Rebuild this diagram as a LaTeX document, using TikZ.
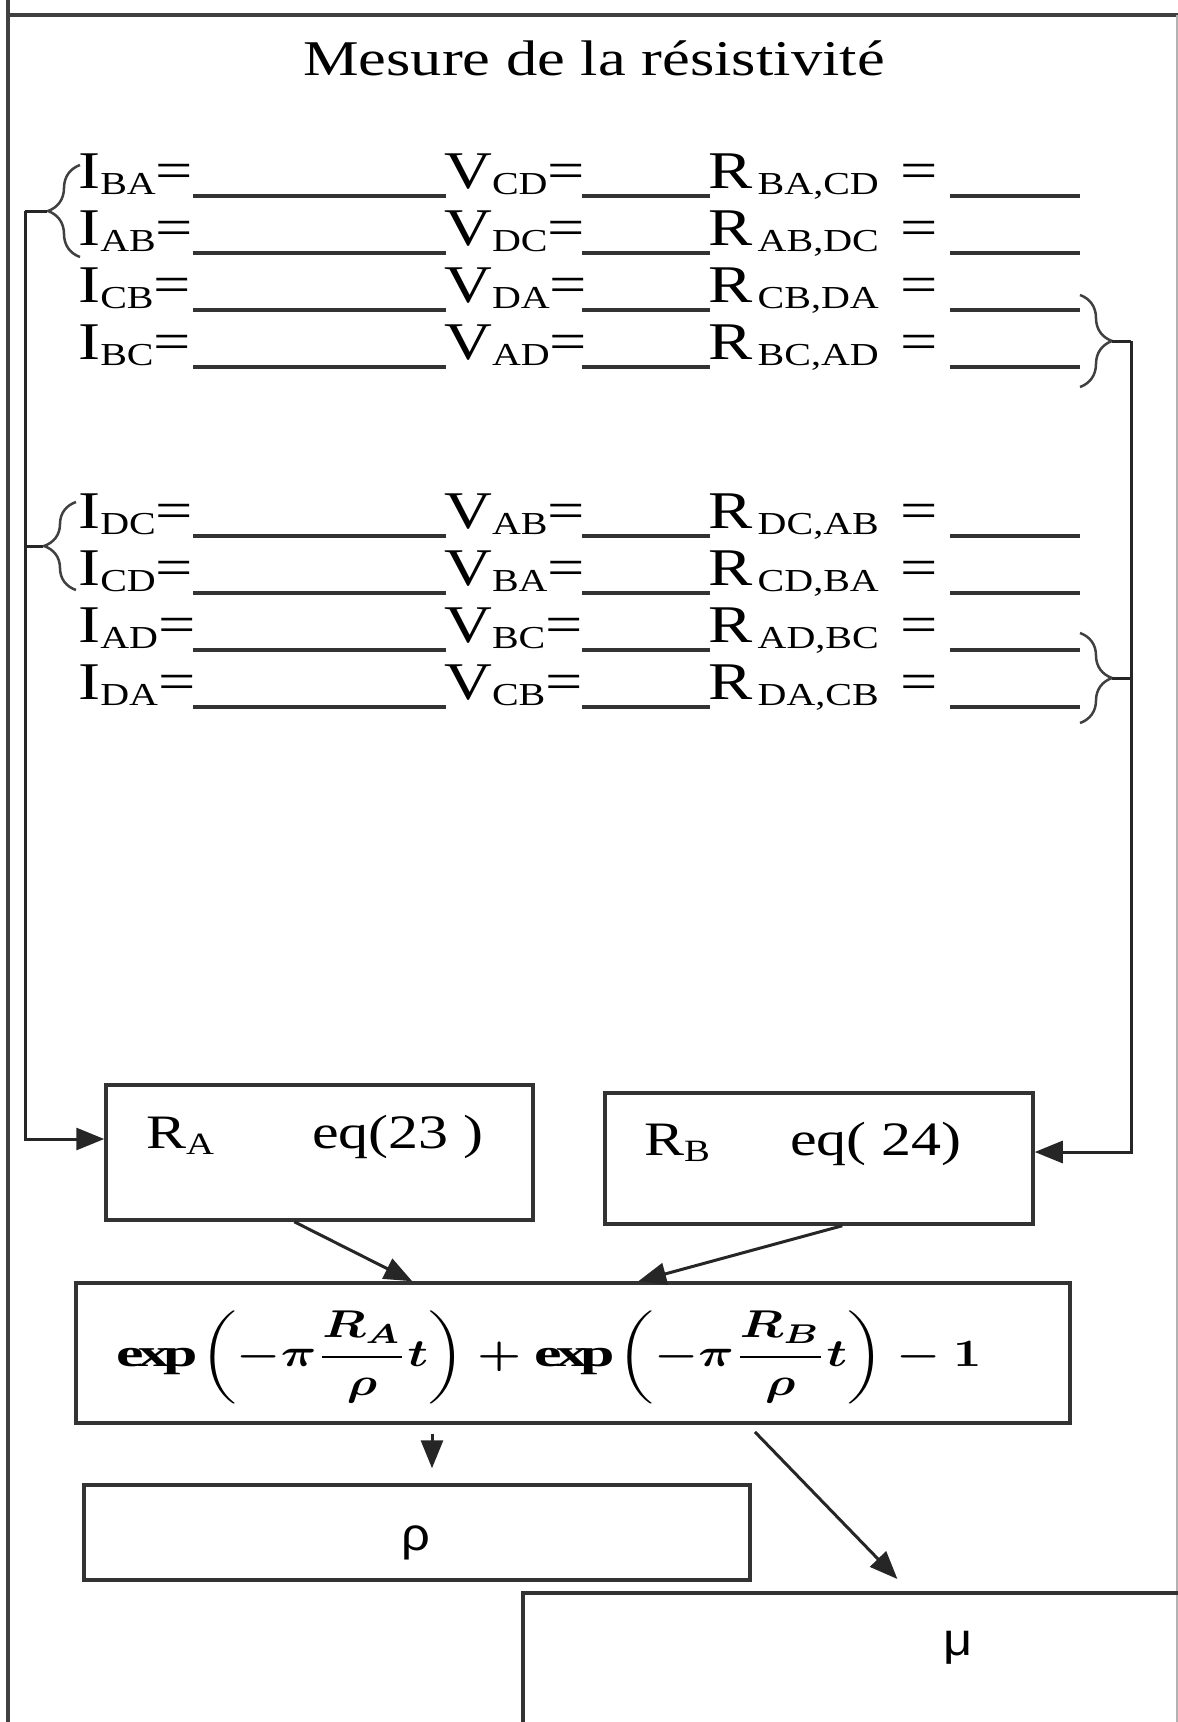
\documentclass[tikz,border=0pt]{standalone}
\usepackage{fontspec}
\usepackage{amsmath}
\usepackage{graphicx}
\setmainfont{Liberation Serif}[FakeStretch=1.25]
\newfontfamily\greeksans{Liberation Sans}[FakeStretch=1.1]
\usetikzlibrary{arrows.meta,decorations.pathreplacing}

% lowered index after a letter (I_BA, V_CD, R_A ...)
\newcommand{\subidx}[2][32]{{\fontsize{#1}{#1}\selectfont\raisebox{-6pt}{#2}}}

\begin{document}
\begin{tikzpicture}[x=1pt, y=-1pt,
    >={Triangle[length=28pt, width=22pt]},
    frame/.style={draw=black!75, line width=4pt},
    block/.style={draw=black!80, line width=3.5pt, inner sep=0pt},
    link/.style={draw=black!85, line width=3pt},
    blank/.style={draw=black!80, line width=3.5pt},
    curly/.style={draw=black!75, line width=2.5pt, decorate, decoration={brace, amplitude=32pt}},
    lbl/.style={anchor=base west, inner sep=0pt, font=\fontsize{53}{60}\selectfont},
    boxlbl/.style={anchor=base west, inner sep=0pt, font=\fontsize{48}{54}\selectfont}]

    % Page
    \useasboundingbox (0,0) rectangle (1178,1722);
    \clip (0,0) rectangle (1178,1722);

    % Outer frame
    \draw[frame] (8,0) -- (8,1722);
    \draw[frame] (8,15) -- (1178,15);
    \draw[black!30, line width=1.5pt] (1177,15) -- (1177,1722);

    % Title
    \node[anchor=base, inner sep=0pt, font=\fontsize{50}{56}\selectfont] (title) at (594,75) {Mesure de la résistivité};

    % First set of measurements
    \node[lbl] (i1) at (78,188) {I\subidx{BA}=};
    \node[lbl] (v1) at (444,188) {V\subidx{CD}=};
    \node[lbl] (r1) at (708,188) {R\subidx{\,BA,CD}};
    \node[lbl] (q1) at (900,188) {=};
    \draw[blank] (193,196) -- (446,196) (582,196) -- (710,196) (950,196) -- (1080,196);

    \node[lbl] (i2) at (78,245) {I\subidx{AB}=};
    \node[lbl] (v2) at (444,245) {V\subidx{DC}=};
    \node[lbl] (r2) at (708,245) {R\subidx{\,AB,DC}};
    \node[lbl] (q2) at (900,245) {=};
    \draw[blank] (193,253) -- (446,253) (582,253) -- (710,253) (950,253) -- (1080,253);

    \node[lbl] (i3) at (78,302) {I\subidx{CB}=};
    \node[lbl] (v3) at (444,302) {V\subidx{DA}=};
    \node[lbl] (r3) at (708,302) {R\subidx{\,CB,DA}};
    \node[lbl] (q3) at (900,302) {=};
    \draw[blank] (193,310) -- (446,310) (582,310) -- (710,310) (950,310) -- (1080,310);

    \node[lbl] (i4) at (78,359) {I\subidx{BC}=};
    \node[lbl] (v4) at (444,359) {V\subidx{AD}=};
    \node[lbl] (r4) at (708,359) {R\subidx{\,BC,AD}};
    \node[lbl] (q4) at (900,359) {=};
    \draw[blank] (193,367) -- (446,367) (582,367) -- (710,367) (950,367) -- (1080,367);

    % Second set of measurements
    \node[lbl] (i5) at (78,528) {I\subidx{DC}=};
    \node[lbl] (v5) at (444,528) {V\subidx{AB}=};
    \node[lbl] (r5) at (708,528) {R\subidx{\,DC,AB}};
    \node[lbl] (q5) at (900,528) {=};
    \draw[blank] (193,536) -- (446,536) (582,536) -- (710,536) (950,536) -- (1080,536);

    \node[lbl] (i6) at (78,585) {I\subidx{CD}=};
    \node[lbl] (v6) at (444,585) {V\subidx{BA}=};
    \node[lbl] (r6) at (708,585) {R\subidx{\,CD,BA}};
    \node[lbl] (q6) at (900,585) {=};
    \draw[blank] (193,593) -- (446,593) (582,593) -- (710,593) (950,593) -- (1080,593);

    \node[lbl] (i7) at (78,642) {I\subidx{AD}=};
    \node[lbl] (v7) at (444,642) {V\subidx{BC}=};
    \node[lbl] (r7) at (708,642) {R\subidx{\,AD,BC}};
    \node[lbl] (q7) at (900,642) {=};
    \draw[blank] (193,650) -- (446,650) (582,650) -- (710,650) (950,650) -- (1080,650);

    \node[lbl] (i8) at (78,699) {I\subidx{DA}=};
    \node[lbl] (v8) at (444,699) {V\subidx{CB}=};
    \node[lbl] (r8) at (708,699) {R\subidx{\,DA,CB}};
    \node[lbl] (q8) at (900,699) {=};
    \draw[blank] (193,707) -- (446,707) (582,707) -- (710,707) (950,707) -- (1080,707);

    % Braces grouping the rows
    \draw[curly] (80,257) -- (80,165);
    \draw[curly] (76,590) -- (76,502);
    \draw[curly] (1080,295) -- (1080,387);
    \draw[curly] (1080,633) -- (1080,723);
    \coordinate (tl) at (47,211);
    \coordinate (bl) at (43,546);
    \coordinate (tr) at (1112,341);
    \coordinate (br) at (1112,678);

    % Boxes
    \node[block, minimum width=427pt, minimum height=135pt] (ra) at (319.5,1152.5) {};
    \node[block, minimum width=428pt, minimum height=131pt] (rb) at (819,1158.5) {};
    \node[block, minimum width=994pt, minimum height=140pt] (fbox) at (573,1353) {};
    \node[block, minimum width=666pt, minimum height=95pt] (rhobox) at (417,1532.5) {};
    \node[block, minimum width=754pt, minimum height=214pt] (mubox) at (900,1700) {};

    % Box contents
    \node[boxlbl] (ralbl) at (146,1148) {R\subidx[31]{A}};
    \node[boxlbl] (raeq) at (312,1148) {eq(23 )};
    \node[boxlbl] (rblbl) at (644,1155) {R\subidx[31]{B}};
    \node[boxlbl] (rbeq) at (790,1155) {eq( 24)};
    \node[inner sep=0pt] (expr) at (549,1357)
        {\resizebox*{865pt}{93pt}{\boldmath$\displaystyle \exp\left(-\pi\frac{R_A}{\rho}t\right)+\exp\left(-\pi\frac{R_B}{\rho}t\right)-1$}};
    \node[inner sep=0pt, font=\greeksans\fontsize{46}{50}\selectfont] (rho) at (416,1543) {ρ};
    \node[inner sep=0pt, font=\greeksans\fontsize{46}{50}\selectfont] (mu) at (958,1648) {μ};

    % Connectors
    \draw[link] (tl) -- (25,211);
    \draw[link, ->] (25,211) |- ([yshift=13.5pt]ra.west);
    \draw[link] (bl) -- (25,546);
    \draw[link] (tr) -- (1131,341);
    \draw[link, ->] (1131,341) |- ([yshift=6.5pt]rb.east);
    \draw[link] (br) -- (1131,678);

    \draw[link, ->] ([xshift=190pt]ra.south west) -- ([xshift=338pt]fbox.north west);
    \draw[link, ->] ([xshift=239pt]rb.south west) -- ([xshift=564pt]fbox.north west);
    \draw[link, ->, shorten <=9pt, shorten >=15pt] ([xshift=-141pt]fbox.south) -- ([xshift=15pt]rhobox.north);
    \draw[link, ->, shorten <=10pt, shorten >=17pt] ([xshift=175pt]fbox.south) -- ([xshift=388pt]mubox.north west);

\end{tikzpicture}
\end{document}
